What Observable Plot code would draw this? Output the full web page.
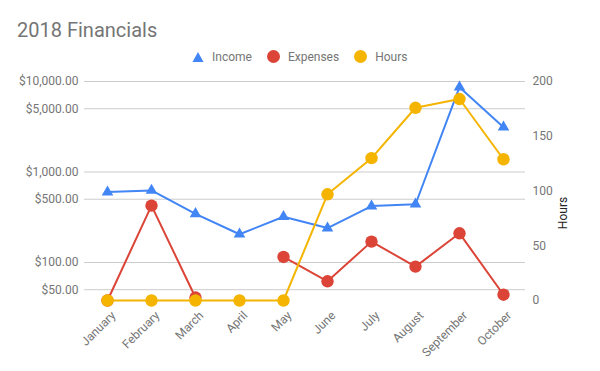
<!DOCTYPE html>
<html>
<head>
<meta charset="utf-8">
<script src="https://cdn.jsdelivr.net/npm/d3@7"></script>
<script src="https://cdn.jsdelivr.net/npm/@observablehq/plot@0.6"></script>
<style>
  body { margin: 0; background: #fff; font-family: Roboto, sans-serif; }
  #wrap { position: relative; width: 600px; height: 371px; overflow: hidden; }
  .layer { position: absolute; left: 0; top: 0; }
  #title { position: absolute; left: 17px; top: 20px; font-size: 20px; line-height: 20px; color: #757575; }
  #legend { position: absolute; left: 192px; top: 50px; height: 13px; display: flex; align-items: center; font-size: 12px; color: #757575; white-space: nowrap; }
  #legend svg { display: block; }
  #hoursLabel { position: absolute; left: 563px; top: 213px; transform: translate(-50%, -50%) rotate(-90deg); font-size: 12px; color: #222; white-space: nowrap; }
</style>
</head>
<body>
<div id="wrap">
  <div id="p1" class="layer"></div>
  <div id="p2" class="layer"></div>
  <div id="title">2018 Financials</div>
  <div id="legend">
    <svg width="12" height="12"><path d="M6,1 L11.5,11 L0.5,11 Z" fill="#4285F4"/></svg>
    <span style="margin-left:8px">Income</span>
    <svg width="13" height="13" style="margin-left:15px"><circle cx="6.5" cy="6.5" r="6.5" fill="#DB4437"/></svg>
    <span style="margin-left:8px">Expenses</span>
    <svg width="13" height="13" style="margin-left:15px"><circle cx="6.5" cy="6.5" r="6.5" fill="#F4B400"/></svg>
    <span style="margin-left:8px">Hours</span>
  </div>
  <div id="hoursLabel">Hours</div>
</div>
<script>
const months = ["January", "February", "March", "April", "May", "June", "July", "August", "September", "October"];
const income = [600, 625, 345, 205, 320, 240, 420, 440, 8650, 3130];
const expenses = [38, 425, 41, null, 115, 62, 170, 90, 210, 44];
const hours = [0, 0, 0, 0, 0, 97, 130, 176, 184, 129];
const moneyTicks = [50, 100, 500, 1000, 5000, 10000];
const hourTicks = [0, 50, 100, 150, 200];

const data = months.map((m, i) => ({month: m, income: income[i], expenses: expenses[i], hours: hours[i]}));

const common = {
  width: 600, height: 371,
  marginTop: 81, marginBottom: 71, marginLeft: 84, marginRight: 75,
  style: {fontFamily: "Roboto, sans-serif", fontSize: "12px", color: "#757575", background: "transparent", overflow: "visible"}
};
const money = d3.format("$,.2f");

const p1 = Plot.plot({
  ...common,
  x: {type: "point", domain: months, padding: 0.5, label: null},
  y: {type: "log", domain: [38, 10000], label: null, axis: null},
  marks: [
    Plot.ruleY(moneyTicks, {y: d => d, stroke: "#cccccc", strokeWidth: 1}),
    Plot.text(moneyTicks, {y: d => d, text: d => money(d), frameAnchor: "left", dx: -6, textAnchor: "end", fill: "#757575", fontSize: 12}),
    Plot.axisX({tickSize: 0, tickRotate: -45, tickPadding: 13, dx: 6, label: null}),
    Plot.lineY(data, {x: "month", y: "income", stroke: "#4285F4", strokeWidth: 2}),
    Plot.dot(data, {x: "month", y: "income", symbol: "triangle", fill: "#4285F4", r: 4.3, stroke: null}),
    Plot.lineY(data, {x: "month", y: "expenses", stroke: "#DB4437", strokeWidth: 2}),
    Plot.dot(data.filter(d => d.expenses != null), {x: "month", y: "expenses", fill: "#DB4437", r: 6.2, stroke: null})
  ]
});
document.getElementById("p1").appendChild(p1);

const p2 = Plot.plot({
  ...common,
  x: {type: "point", domain: months, padding: 0.5, axis: null},
  y: {domain: [0, 200], label: null},
  marks: [
    Plot.axisY(hourTicks, {anchor: "right", tickSize: 0, tickPadding: 7, label: null}),
    Plot.lineY(data, {x: "month", y: "hours", stroke: "#F4B400", strokeWidth: 2}),
    Plot.dot(data, {x: "month", y: "hours", fill: "#F4B400", r: 6.2, stroke: null})
  ]
});
document.getElementById("p2").appendChild(p2);
</script>
</body>
</html>
